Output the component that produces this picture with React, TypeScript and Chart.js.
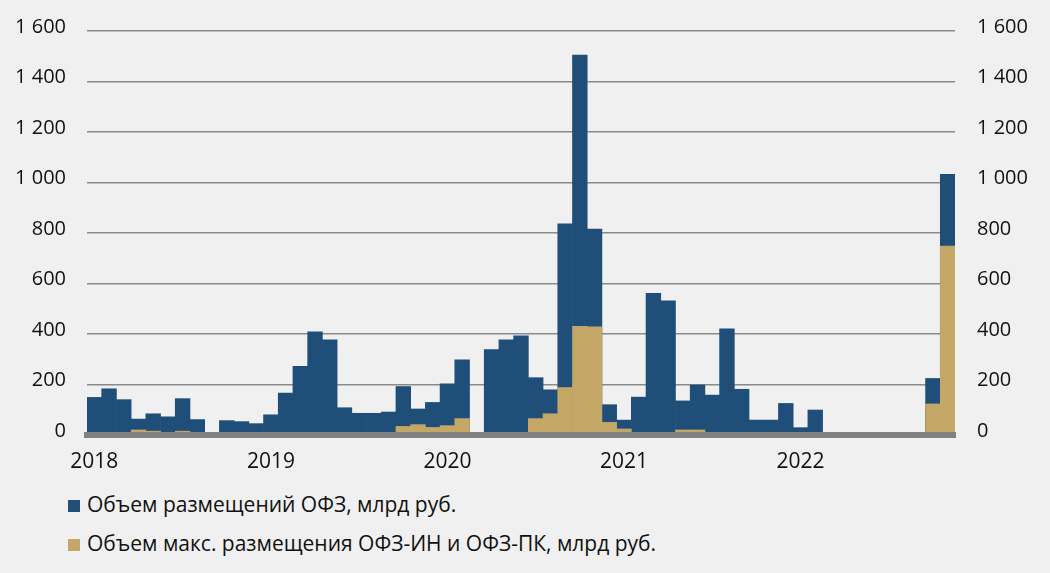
import React, { useEffect, useRef } from "react";
import { Chart, registerables } from "chart.js";

Chart.register(...registerables);

const categories: string[] = [
  "01.2018", "02.2018", "03.2018", "04.2018", "05.2018", "06.2018", "07.2018", "08.2018", "09.2018", "10.2018", "11.2018", "12.2018",
  "01.2019", "02.2019", "03.2019", "04.2019", "05.2019", "06.2019", "07.2019", "08.2019", "09.2019", "10.2019", "11.2019", "12.2019",
  "01.2020", "02.2020", "03.2020", "04.2020", "05.2020", "06.2020", "07.2020", "08.2020", "09.2020", "10.2020", "11.2020", "12.2020",
  "01.2021", "02.2021", "03.2021", "04.2021", "05.2021", "06.2021", "07.2021", "08.2021", "09.2021", "10.2021", "11.2021", "12.2021",
  "01.2022", "02.2022", "03.2022", "04.2022", "05.2022", "06.2022", "07.2022", "08.2022", "09.2022", "10.2022", "11.2022",
];

// Объем размещений ОФЗ, млрд руб.
const totalPlacement: number[] = [
  149, 183, 140, 63, 84, 72, 144, 61, 0, 57, 53, 45,
  80, 166, 272, 409, 377, 108, 86, 86, 91, 192, 103, 129,
  203, 298, 0, 338, 377, 393, 227, 179, 836, 1505, 816, 120,
  59, 150, 561, 531, 135, 198, 158, 420, 181, 59, 59, 125,
  29, 99, 0, 0, 0, 0, 0, 0, 0, 224, 1032,
];

// Объем макс. размещения ОФЗ-ИН и ОФЗ-ПК, млрд руб.
const linkedPlacement: number[] = [
  0, 0, 0, 20, 15, 0, 15, 0, 0, 0, 0, 0,
  0, 0, 0, 0, 0, 0, 0, 0, 8, 34, 41, 30,
  37, 65, 0, 0, 3, 5, 65, 84, 188, 430, 428, 50,
  24, 5, 5, 3, 20, 20, 0, 0, 0, 0, 0, 0,
  0, 0, 0, 0, 0, 0, 0, 0, 0, 123, 748,
];

const yTicks: number[] = [0, 200, 400, 600, 800, 1000, 1200, 1400, 1600];

const seriesNames: string[] = [
  "Объем размещений ОФЗ, млрд руб.",
  "Объем макс. размещения ОФЗ-ИН и ОФЗ-ПК, млрд руб.",
];

const BLUE = "#1f4e79";
const GOLD = "#c4a767";
const FONT = "'Open Sans', 'DejaVu Sans', sans-serif";

const fmt = (v: number) => {
  if (v >= 1000) {
    const th = Math.floor(v / 1000);
    const rest = String(v % 1000).padStart(3, "0");
    return `${th} ${rest}`;
  }
  return String(v);
};

export default function App() {
  const ref = useRef<HTMLCanvasElement | null>(null);

  useEffect(() => {
    document.body.style.margin = "0";
    document.body.style.background = "#f0f0f0";
    const canvas = ref.current;
    if (!canvas) return;
    const chart = new Chart(canvas, {
      type: "bar",
      data: {
        labels: categories,
        datasets: [
          {
            label: seriesNames[1],
            data: linkedPlacement,
            backgroundColor: GOLD,
            borderWidth: 0,
            grouped: false,
            order: 0,
            barPercentage: 1,
            categoryPercentage: 1,
            yAxisID: "y",
          },
          {
            label: seriesNames[0],
            data: totalPlacement,
            backgroundColor: BLUE,
            borderWidth: 0,
            grouped: false,
            order: 1,
            barPercentage: 1,
            categoryPercentage: 1,
            yAxisID: "y",
          },
        ],
      },
      options: {
        animation: false,
        responsive: false,
        devicePixelRatio: 1,
        layout: { padding: { top: 31, bottom: 0, left: 0, right: 0 } },
        plugins: {
          legend: { display: false },
          tooltip: { enabled: false },
        },
        scales: {
          x: {
            type: "category",
            grid: { display: false, drawTicks: false, tickLength: 0 },
            border: { display: true, color: "#808080", width: 6, z: 1 },
            ticks: {
              autoSkip: false,
              maxRotation: 0,
              minRotation: 0,
              padding: 14,
              color: "#111",
              font: { family: FONT, size: 21 },
              callback: (_v: any, i: number) => {
                const c = categories[i];
                return c.startsWith("01.") ? c.slice(3) : "";
              },
            },
            afterFit: (s: any) => {
              s.height = 45;
            },
          },
          y: {
            type: "linear",
            position: "left",
            min: 0,
            max: 1600,
            afterBuildTicks: (s: any) => {
              s.ticks = yTicks.map((v) => ({ value: v }));
            },
            grid: { color: "#8a8a8a", lineWidth: 1.5, drawTicks: false, tickLength: 0 },
            border: { display: false },
            ticks: {
              padding: 21,
              labelOffset: -4,
              color: "#111",
              font: { family: FONT, size: 20 },
              callback: (v: any) => fmt(Number(v)),
            },
            afterFit: (s: any) => {
              s.width = 87;
              s.paddingTop = 12;
              s.paddingBottom = 12;
            },
          },
          y1: {
            type: "linear",
            position: "right",
            min: 0,
            max: 1600,
            afterBuildTicks: (s: any) => {
              s.ticks = yTicks.map((v) => ({ value: v }));
            },
            grid: { display: false, drawTicks: false, tickLength: 0 },
            border: { display: false },
            ticks: {
              padding: 22,
              labelOffset: -4,
              color: "#111",
              font: { family: FONT, size: 20 },
              callback: (v: any) => fmt(Number(v)),
            },
            afterFit: (s: any) => {
              s.width = 95;
              s.paddingTop = 12;
              s.paddingBottom = 12;
            },
          },
        },
      },
    });
    return () => chart.destroy();
  }, []);

  const legendItem = (color: string, text: string, top: number) => (
    <div style={{ position: "absolute", left: 68, top, height: 24, display: "flex", alignItems: "center" }}>
      <div style={{ width: 12, height: 12, background: color, marginTop: 4 }} />
      <div style={{ marginLeft: 7, fontFamily: FONT, fontSize: 21, color: "#111", whiteSpace: "nowrap", lineHeight: "24px" }}>
        {text}
      </div>
    </div>
  );

  return (
    <div style={{ position: "relative", width: 1050, height: 573, background: "#f0f0f0", overflow: "hidden" }}>
      <canvas ref={ref} width={1050} height={480} style={{ position: "absolute", left: 0, top: 0, width: 1050, height: 480 }} />
      {legendItem(BLUE, seriesNames[0], 492)}
      {legendItem(GOLD, seriesNames[1], 531)}
    </div>
  );
}
